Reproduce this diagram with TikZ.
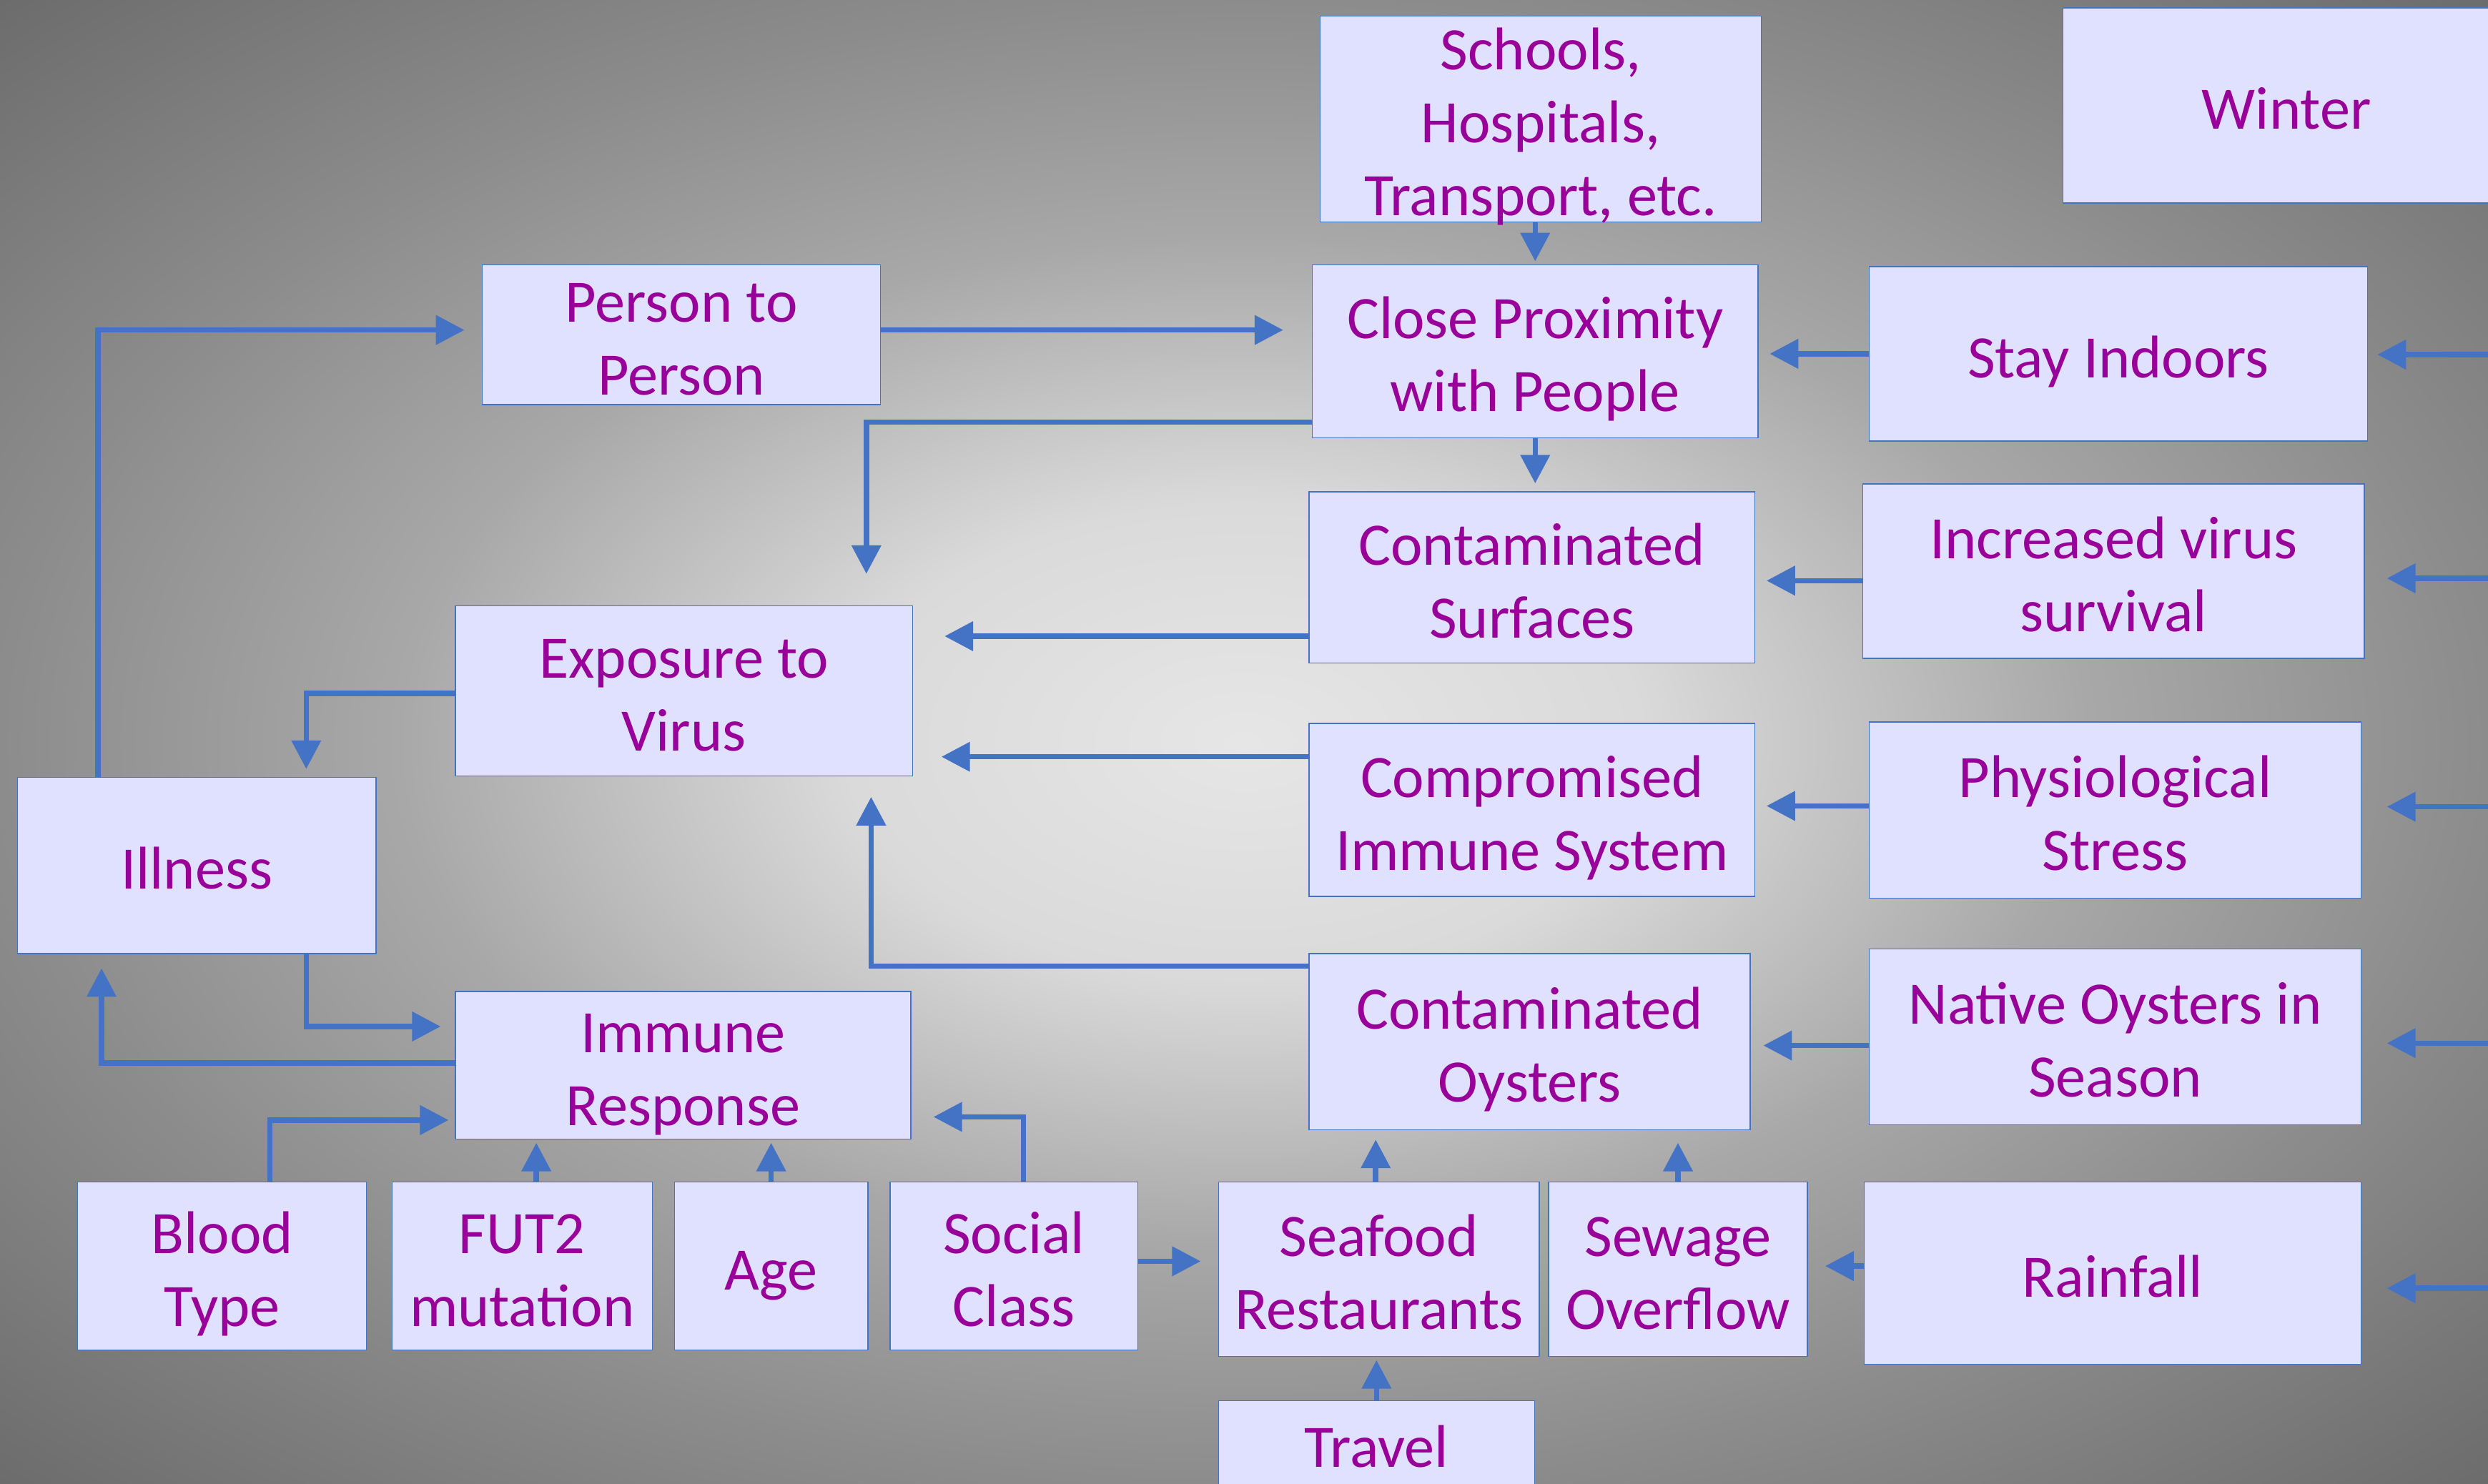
\documentclass[tikz,border=0pt]{standalone}
\usepackage{fontspec}
\setmainfont{Carlito}
\usetikzlibrary{arrows.meta}

\definecolor{boxfill}{HTML}{E0E0FF}
\definecolor{boxline}{HTML}{4472C4}
\definecolor{linkblue}{HTML}{4472C4}
\definecolor{txtpurple}{HTML}{990099}
\definecolor{bgcentre}{HTML}{E6E6E6}
\definecolor{bginner}{HTML}{DADADA}
\definecolor{bgmid}{HTML}{A8A8A8}
\definecolor{bgedge}{HTML}{8C8C8C}
\definecolor{bgcorner}{HTML}{6A6A6A}
\pgfdeclareradialshading{backdrop}{\pgfpoint{0bp}{0bp}}{color(0bp)=(bgcentre); color(8bp)=(bginner); color(17bp)=(bgmid); color(25bp)=(bgedge); color(36bp)=(bgcorner); color(50bp)=(bgcorner)}

% fixed first-line height and last-line depth, so text sits as in the slide
\newcommand{\topstrut}{\vrule height 40pt depth 0pt width 0pt}
\newcommand{\botstrut}{\vrule height 0pt depth 10pt width 0pt}
\newcommand{\lbl}[1]{\topstrut#1\botstrut}

\begin{document}
\begin{tikzpicture}[x=1pt, y=-1pt]
	\tikzset{box/.style={draw=boxline, line width=0.6pt, fill=boxfill, text=txtpurple, align=center, inner xsep=0pt, inner ysep=-6pt, font=\fontsize{38}{46}\selectfont}}
	\tikzset{boxsize/.style 2 args={minimum width=#1pt, minimum height=#2pt}}
	\tikzset{link/.style={draw=linkblue, line width=3.4pt, -{Triangle[length=18pt, width=18pt]}}}

	\useasboundingbox (0,0) rectangle (1568,935);
	\clip (0,0) rectangle (1568,935);
	\shade[shading=backdrop] (0,0) rectangle (1568,935);

	% top row
	\node[box, boxsize={278}{130}] (school) at (971,75) {\lbl{Schools,\\Hospitals,\\Transport, etc.}};
	\node[box, boxsize={282}{123}] (winter) at (1441,66.5) {\lbl{Winter}};

	% middle column and right column
	\node[box, boxsize={251}{88}] (p2p) at (429.5,211) {\lbl{Person to\\Person}};
	\node[box, boxsize={281}{109}] (close) at (967.5,221.5) {\lbl{Close Proximity\\with People}};
	\node[box, boxsize={314}{110}] (stay) at (1335,223) {\lbl{Stay Indoors}};
	\node[box, boxsize={281}{108}] (surf) at (965.5,364) {\lbl{Contaminated\\Surfaces}};
	\node[box, boxsize={316}{110}] (virsurv) at (1332,360) {\lbl{Increased virus\\survival}};
	\node[box, boxsize={288}{107}] (expo) at (431,435.5) {\lbl{Exposure to\\Virus}};
	\node[box, boxsize={226}{111}] (ill) at (124,545.5) {\lbl{Illness}};
	\node[box, boxsize={281}{109}] (immsys) at (965.5,510.5) {\lbl{Compromised\\Immune System}};
	\node[box, boxsize={310}{111}] (stress) at (1333,510.5) {\lbl{Physiological\\Stress}};
	\node[box, boxsize={278}{111}] (oyst) at (964,656.5) {\lbl{Contaminated\\Oysters}};
	\node[box, boxsize={310}{111}] (native) at (1333,653.5) {\lbl{Native Oysters in\\Season}};
	\node[box, boxsize={287}{93}] (immresp) at (430.5,671.5) {\lbl{Immune\\Response}};

	% bottom row
	\node[box, boxsize={182}{106}] (blood) at (140,798) {\lbl{Blood\\Type}};
	\node[box, boxsize={164}{106}] (fut) at (329,798) {\lbl{FUT2\\mutation}};
	\node[box, boxsize={122}{106}] (age) at (486,798) {\lbl{Age}};
	\node[box, boxsize={156}{106}] (social) at (639,798) {\lbl{Social\\Class}};
	\node[box, boxsize={202}{110}] (seafood) at (869,800) {\lbl{Seafood\\Restaurants}};
	\node[box, boxsize={163}{110}] (sewage) at (1057.5,800) {\lbl{Sewage\\Overflow}};
	\node[box, boxsize={313}{115}] (rain) at (1331.5,802.5) {\lbl{Rainfall}};
	\node[box, boxsize={199}{54}] (travel) at (867.5,910) {\lbl{Travel}};

	% inputs from the right edge
	\coordinate (in1) at (1575,223.5);
	\coordinate (in2) at (1575,364.5);
	\coordinate (in3) at (1575,508.5);
	\coordinate (in4) at (1575,657.5);
	\coordinate (in5) at (1575,812);
	\draw[link, shorten >=6pt] (in1) -- (in1 -| stay.east);
	\draw[link, shorten >=14pt] (in2) -- (in2 -| virsurv.east);
	\draw[link, shorten >=16pt] (in3) -- (in3 -| stress.east);
	\draw[link, shorten >=16pt] (in4) -- (in4 -| native.east);
	\draw[link, shorten >=16pt] (in5) -- (in5 -| rain.east);

	\draw[link, shorten >=2pt] (close.north |- school.south) -- (close.north);
	\draw[link, shorten >=5pt] (close.south) -- (close.south |- surf.north);
	\draw[link, shorten >=7pt] (stay.west) -- (stay.west -| close.east);
	\draw[link, shorten >=18pt] ([yshift=3pt]p2p.east) -- ([yshift=13.5pt]close.west);
	\draw[link, shorten >=11pt] ([xshift=51pt]ill.north west) |- ([yshift=3pt]p2p.west);
	\draw[link, shorten >=20pt] ([yshift=-44.5pt]close.west) -| ([xshift=115pt]expo.north);
	\draw[link, shorten >=20pt] ([yshift=-37pt]surf.west) -- ([yshift=34.5pt]expo.east);
	\draw[link, shorten >=7pt] ([yshift=-6pt]virsurv.west) -- ([yshift=-2pt]surf.east);
	\draw[link, shorten >=18pt] ([yshift=33.5pt]immsys.west) -- ([yshift=-41.5pt]expo.east);
	\draw[link, shorten >=7pt] ([yshift=2.5pt]stress.west) -- ([yshift=2.5pt]immsys.east);
	\draw[link, shorten >=13pt] ([yshift=47.5pt]oyst.west) -| ([xshift=118pt]expo.south);
	\draw[link, shorten >=8pt] ([yshift=-5.5pt]native.west) -- ([yshift=-2.5pt]oyst.east);
	\draw[link, shorten >=11pt] ([yshift=4.5pt]rain.west) -- ([yshift=2pt]sewage.east);
	\draw[link, shorten >=6pt] ([xshift=-2pt]seafood.north) -- ([xshift=-97pt]oyst.south);
	\draw[link, shorten >=8pt] (sewage.north) -- ([xshift=93.5pt]oyst.south);
	\draw[link, shorten >=2pt] (travel.north) -- (travel.north |- seafood.south);
	\draw[link, shorten >=11pt] ([yshift=3pt]social.east) -- ([yshift=5pt]seafood.west);
	\draw[link, shorten >=14pt] ([xshift=6pt]social.north) |- ([yshift=-32.5pt]immresp.east);
	\draw[link, shorten >=2pt] (age.north) -- (age.north |- immresp.south);
	\draw[link, shorten >=2pt] ([xshift=9pt]fut.north) -- ([xshift=-92.5pt]immresp.south);
	\draw[link, shorten >=4pt] ([xshift=30pt]blood.north) |- ([yshift=-34.5pt]immresp.west);
	\draw[link, shorten >=5pt] ([yshift=-1.5pt]expo.west) -| ([xshift=69pt]ill.north);
	\draw[link, shorten >=9pt] ([xshift=69pt]ill.south) |- ([yshift=24.5pt]immresp.west);
	\draw[link, shorten >=9pt] ([yshift=1.5pt]immresp.west) -| ([xshift=-60pt]ill.south);
\end{tikzpicture}
\end{document}
